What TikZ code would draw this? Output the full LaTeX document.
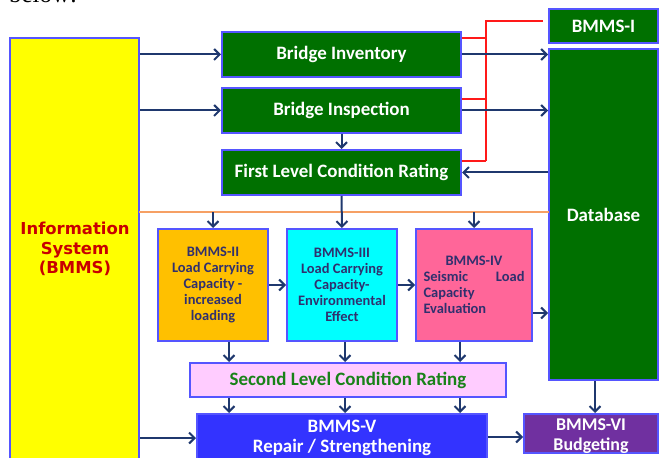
\documentclass[tikz,border=0pt]{standalone}
\usepackage{fontspec}
\setmainfont{Carlito}
\newfontfamily\infofont{DejaVu Sans}
\newfontfamily\serifone{Liberation Serif}
\usetikzlibrary{arrows.meta,calc}
\definecolor{bgreen}{RGB}{0,112,0}
\definecolor{bborder}{RGB}{85,85,255}
\definecolor{navy}{RGB}{31,56,110}
\definecolor{bred}{RGB}{255,25,25}
\definecolor{bor}{RGB}{246,160,100}
\definecolor{infored}{RGB}{200,0,0}
\definecolor{byel}{RGB}{255,255,0}
\definecolor{bII}{RGB}{255,192,0}
\definecolor{bIII}{RGB}{0,255,255}
\definecolor{bIV}{RGB}{255,102,153}
\definecolor{bsec}{RGB}{255,204,255}
\definecolor{bV}{RGB}{51,51,255}
\definecolor{bVI}{RGB}{112,48,160}
\definecolor{smalltxt}{RGB}{48,48,110}
\definecolor{sectxt}{RGB}{25,130,25}
\tikzset{
  boxs/.style={draw=bborder, line width=2bp, rectangle, inner sep=0pt, align=center},
  gbox/.style={boxs, fill=bgreen, text=white, font=\fontsize{19}{22}\selectfont\bfseries},
  mbox/.style={boxs, font=\fontsize{14.5}{16}\selectfont\bfseries, text=smalltxt,
     minimum height=112bp},
  arr/.style={draw=navy, line width=2bp, -{Straight Barb[length=5.5bp,width=11bp,line width=2bp]}},
  redl/.style={draw=bred, line width=2bp},
}
\begin{document}
\begin{tikzpicture}[x=1bp,y=-1bp]
\useasboundingbox (0,0) rectangle (659,458);
% cut-off caption text
\node[anchor=base west, inner sep=0pt, font=\serifone\fontsize{25}{25}\selectfont] (capt) at (9,3) {below:};
% boxes
\node[boxs, fill=byel, minimum width=129bp, minimum height=432bp] (info) at (74.5,254) {};
\node[font=\infofont\fontsize{16.5}{19.5}\selectfont\bfseries, text=infored, align=center] (infot) at (75,249) {Information\\System\\(BMMS)};
\node[gbox, minimum width=239bp, minimum height=45bp] (inv) at (341.5,54.5) {Bridge Inventory};
\node[gbox, minimum width=239bp, minimum height=45bp] (insp) at (341.5,110.5) {Bridge Inspection};
\node[gbox, minimum width=239bp, minimum height=45bp] (flcr) at (341.5,172.5) {First Level Condition Rating};
\node[gbox, minimum width=109bp, minimum height=34bp] (b1) at (603.5,26) {BMMS-I};
\node[gbox, minimum width=109bp, minimum height=331bp] (db) at (603.5,214.5) {Database};
\node[mbox, fill=bII, minimum width=110bp] (b2) at (213,285) {BMMS-II\\Load Carrying\\Capacity -\\increased\\loading};
\node[mbox, fill=bIII, minimum width=110bp] (b3) at (342,285) {BMMS-III\\Load Carrying\\Capacity-\\Environmental\\Effect};
\node[mbox, fill=bIV, minimum width=116bp, align=left] (b4) at (474,285) {\makebox[101bp][c]{BMMS-IV}\\\makebox[101bp][s]{Seismic\hfill Load}\\Capacity\\Evaluation};
\node[boxs, fill=bsec, minimum width=316bp, minimum height=34bp, text=sectxt, font=\fontsize{19}{22}\selectfont\bfseries] (sec) at (348,380) {Second Level Condition Rating};
\node[boxs, fill=bV, minimum width=290bp, minimum height=48bp, text=white, font=\fontsize{19}{20}\selectfont\bfseries] (b5) at (342,438) {BMMS-V\\Repair / Strengthening};
\node[boxs, fill=bVI, minimum width=134bp, minimum height=39bp] (b6) at (591,433.5) {};
\node[inner sep=0pt, align=center, text=white, font=\fontsize{18}{20.5}\selectfont\bfseries] (b6t) at ($(b6.center)+(0,2.5)$) {BMMS-VI\\Budgeting};
% helper coordinates
\coordinate (ol) at (139,212.5);
\coordinate (orr) at (549,212.5);
\coordinate (c1) at (229,0);
\coordinate (c2) at (345,0);
\coordinate (c3) at (460,0);
\coordinate (rx) at (486,0);
\coordinate (rt) at (543,21);
% orange line
\draw[draw=bor, line width=2bp] (ol) -- (orr);
% red lines
\draw[redl] (inv.east |- 0,38) -- (rx |- 0,38);
\draw[redl] (insp.east |- 0,99) -- (rx |- 0,99);
\draw[redl] (flcr.east |- 0,161) -- (rx |- 0,161);
\draw[redl] (rx |- 0,161) -- (rx |- rt) -- (rt);
% arrows from info
\draw[arr] (info.east |- inv.west) -- (inv.west);
\draw[arr] (info.east |- insp.west) -- (insp.west);
\draw[arr] (info.east |- b5.west) -- (b5.west);
% to database
\draw[arr] (inv.east) -- (inv.east -| db.west);
\draw[arr] (insp.east) -- (insp.east -| db.west);
\draw[arr] (flcr.east -| db.west) -- (flcr.east);
\draw[arr] (insp.south) -- (flcr.north);
\draw[arr] (flcr.south) -- (b3.north);
\draw[arr] (ol -| b2.north) -- (b2.north);
\draw[arr] (ol -| b4.north) -- (b4.north);
\draw[arr] (b2.east) -- (b3.west);
\draw[arr] (b3.east) -- (b4.west);
\draw[arr] (b4.east |- 0,313) -- (db.west |- 0,313);
% to second level
\draw[arr] (b2.south -| c1) -- (sec.north -| c1);
\draw[arr] (b3.south -| c2) -- (sec.north -| c2);
\draw[arr] (b4.south -| c3) -- (sec.north -| c3);
\draw[arr] (sec.south -| c1) -- (b5.north -| c1);
\draw[arr] (sec.south -| c2) -- (b5.north -| c2);
\draw[arr] (sec.south -| c3) -- (b5.north -| c3);
% to budgeting
\draw[arr] (db.south -| 595,0) -- (b6.north -| 595,0);
\draw[arr] (b5.east |- 0,437) -- (b6.west |- 0,437);
\end{tikzpicture}
\end{document}
